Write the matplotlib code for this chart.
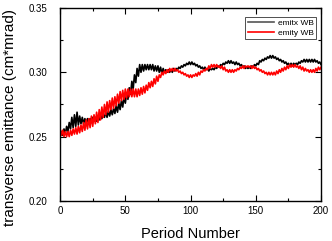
import numpy as np
import matplotlib
matplotlib.use("Agg")
import matplotlib.pyplot as plt
from matplotlib.ticker import MultipleLocator

plt.rcParams['font.family'] = ['Liberation Sans', 'DejaVu Sans']

period = np.arange(0, 201)

emitx = [
    0.250, 0.254, 0.251, 0.256, 0.252, 0.258, 0.254, 0.261, 0.256, 0.265,
    0.257, 0.267, 0.258, 0.269, 0.259, 0.266, 0.260, 0.265, 0.260, 0.264,
    0.260, 0.264, 0.261, 0.264, 0.261, 0.265, 0.262, 0.265, 0.262, 0.266,
    0.263, 0.267, 0.264, 0.267, 0.265, 0.269, 0.265, 0.270, 0.266, 0.271,
    0.267, 0.272, 0.268, 0.274, 0.269, 0.276, 0.271, 0.278, 0.273, 0.281,
    0.276, 0.284, 0.279, 0.288, 0.283, 0.293, 0.287, 0.298, 0.292, 0.303,
    0.297, 0.306, 0.300, 0.306, 0.301, 0.306, 0.302, 0.306, 0.302, 0.306,
    0.302, 0.306, 0.301, 0.305, 0.301, 0.305, 0.300, 0.304, 0.299, 0.303,
    0.300, 0.302, 0.300, 0.302, 0.300, 0.302, 0.300, 0.303, 0.301, 0.303,
    0.302, 0.304, 0.303, 0.305, 0.304, 0.306, 0.305, 0.307, 0.306, 0.308,
    0.306, 0.308, 0.306, 0.307, 0.305, 0.306, 0.304, 0.305, 0.303, 0.304,
    0.302, 0.304, 0.302, 0.303, 0.301, 0.303, 0.302, 0.303, 0.302, 0.304,
    0.303, 0.305, 0.304, 0.306, 0.305, 0.307, 0.306, 0.308, 0.307, 0.309,
    0.307, 0.309, 0.307, 0.308, 0.306, 0.308, 0.306, 0.307, 0.305, 0.306,
    0.304, 0.305, 0.303, 0.304, 0.303, 0.304, 0.303, 0.305, 0.304, 0.306,
    0.305, 0.307, 0.306, 0.309, 0.308, 0.310, 0.309, 0.311, 0.310, 0.312,
    0.311, 0.313, 0.311, 0.313, 0.311, 0.312, 0.310, 0.311, 0.309, 0.310,
    0.308, 0.309, 0.307, 0.308, 0.306, 0.307, 0.305, 0.307, 0.305, 0.307,
    0.306, 0.307, 0.306, 0.308, 0.307, 0.309, 0.308, 0.310, 0.308, 0.310,
    0.308, 0.310, 0.308, 0.310, 0.308, 0.310, 0.308, 0.309, 0.307, 0.308,
    0.306,
]

emity = [
    0.256, 0.251, 0.255, 0.250, 0.254, 0.250, 0.254, 0.250, 0.255, 0.251,
    0.256, 0.252, 0.257, 0.252, 0.258, 0.253, 0.259, 0.254, 0.261, 0.255,
    0.263, 0.256, 0.264, 0.257, 0.266, 0.258, 0.267, 0.260, 0.269, 0.261,
    0.271, 0.263, 0.273, 0.265, 0.275, 0.267, 0.277, 0.269, 0.278, 0.271,
    0.280, 0.272, 0.281, 0.274, 0.283, 0.276, 0.285, 0.278, 0.286, 0.279,
    0.287, 0.280, 0.287, 0.281, 0.287, 0.281, 0.287, 0.281, 0.287, 0.281,
    0.287, 0.282, 0.288, 0.283, 0.289, 0.284, 0.290, 0.286, 0.292, 0.288,
    0.293, 0.289, 0.295, 0.291, 0.297, 0.293, 0.298, 0.296, 0.300, 0.298,
    0.301, 0.299, 0.302, 0.300, 0.303, 0.301, 0.303, 0.301, 0.303, 0.301,
    0.302, 0.300, 0.301, 0.299, 0.300, 0.298, 0.299, 0.297, 0.298, 0.296,
    0.298, 0.296, 0.298, 0.297, 0.299, 0.297, 0.300, 0.298, 0.301, 0.300,
    0.302, 0.301, 0.303, 0.302, 0.305, 0.303, 0.306, 0.304, 0.306, 0.304,
    0.306, 0.304, 0.305, 0.303, 0.305, 0.302, 0.304, 0.301, 0.302, 0.300,
    0.302, 0.300, 0.302, 0.300, 0.302, 0.301, 0.303, 0.302, 0.304, 0.303,
    0.305, 0.303, 0.305, 0.304, 0.305, 0.304, 0.305, 0.303, 0.305, 0.303,
    0.304, 0.302, 0.303, 0.301, 0.302, 0.300, 0.301, 0.299, 0.300, 0.298,
    0.300, 0.298, 0.300, 0.298, 0.300, 0.298, 0.301, 0.299, 0.302, 0.300,
    0.303, 0.301, 0.304, 0.302, 0.305, 0.303, 0.306, 0.304, 0.306, 0.304,
    0.306, 0.304, 0.305, 0.303, 0.305, 0.302, 0.304, 0.301, 0.303, 0.301,
    0.302, 0.300, 0.302, 0.300, 0.302, 0.300, 0.303, 0.301, 0.304, 0.302,
    0.304,
]

fig = plt.figure(figsize=(3.32, 2.41), dpi=100)
ax = fig.add_axes([0.181, 0.166, 0.786, 0.801])

ax.plot(period, emitx, color='black', lw=1.2, label='emitx WB')
ax.plot(period, emity, color='red', lw=1.2, label='emity WB')

ax.set_xlim(0, 200)
ax.set_ylim(0.20, 0.35)
ax.xaxis.set_major_locator(MultipleLocator(50))
ax.xaxis.set_minor_locator(MultipleLocator(25))
ax.yaxis.set_major_locator(MultipleLocator(0.05))
ax.yaxis.set_minor_locator(MultipleLocator(0.025))
ax.tick_params(which='both', direction='in', top=True, right=True, labelsize=7, width=0.8)
ax.tick_params(which='major', length=4)
ax.tick_params(which='minor', length=2)
ax.tick_params(axis='y', which='major', pad=9)
ax.set_yticks([0.20, 0.25, 0.30, 0.35], labels=['0.20', '0.25', '0.30', '0.35'])
for s in ax.spines.values():
    s.set_linewidth(1.0)

ax.set_xlabel('Period Number', fontsize=10.5)
ax.xaxis.set_label_coords(0.5, -0.135)
ax.set_ylabel('transverse emittance (cm*mrad)', fontsize=11)
ax.yaxis.set_label_coords(-0.165, 0.435)

leg = ax.legend(loc='upper right', fontsize=6, frameon=True, fancybox=False,
                edgecolor='black', handlelength=3.2, borderpad=0.3,
                labelspacing=0.2, handletextpad=0.4, borderaxespad=0.6,
                bbox_to_anchor=(1.0, 0.98))
leg.get_frame().set_linewidth(0.6)
leg.legend_handles[0].set_color('#555555')

fig.savefig('out.png', dpi=100)
